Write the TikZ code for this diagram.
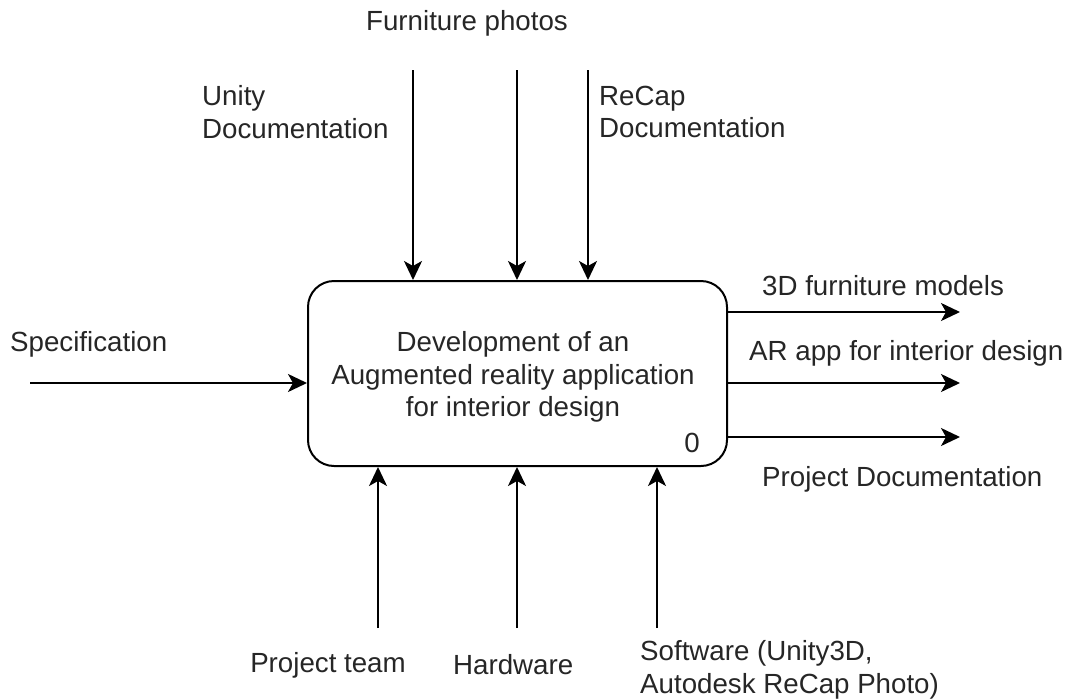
\documentclass[tikz,border=0pt]{standalone}
\usepackage{fontspec}
\setmainfont{Liberation Sans}
\usetikzlibrary{arrows.meta}
\begin{document}
\begin{tikzpicture}[x=1pt,y=-1pt,
  lbl/.style={inner sep=0pt, font=\fontsize{27.7}{32.5}\selectfont, text=black!85},
  arr/.style={line width=2pt, -{Stealth[length=19pt,width=18pt,inset=5pt]}},
  proc/.style={draw, line width=2pt, rounded corners=26pt, minimum width=419pt, minimum height=185pt, inner sep=0pt}]
\useasboundingbox (0,0) rectangle (1071,699);
\node[proc] (box) at (517.5,373.5) {};
\node[lbl, align=center] (boxt) at (513,377) {Development of an\\Augmented reality application\\for interior design};
\node[lbl] (num) at (692,443) {0};
% top
\node[lbl] (furn) at (467,23) {Furniture photos};
\node[lbl, anchor=west, align=left] (unity) at (202,112) {Unity\\Documentation};
\node[lbl, anchor=west, align=left] (recap) at (599,112) {ReCap\\Documentation};
\coordinate (t1) at (413,70);
\coordinate (t2) at (517,70);
\coordinate (t3) at (588,70);
\draw[arr] (t1) -- (t1 |- box.north);
\draw[arr] (t2) -- (t2 |- box.north);
\draw[arr] (t3) -- (t3 |- box.north);
% left
\node[lbl, anchor=west] (spec) at (10,344) {Specification};
\coordinate (l1) at (30,383);
\draw[arr] (l1) -- (l1 -| box.west);
% right
\node[lbl, anchor=west] (o1) at (762,286) {3D furniture models};
\node[lbl, anchor=west] (o2) at (749,353) {AR app for interior design};
\node[lbl, anchor=west] (o3) at (762,479) {Project Documentation};
\coordinate (r1) at (960,312);
\coordinate (r2) at (960,383);
\coordinate (r3) at (960,437);
\draw[arr] (r1 -| box.east) -- (r1);
\draw[arr] (r2 -| box.east) -- (r2);
\draw[arr] (r3 -| box.east) -- (r3);
% bottom
\node[lbl] (team) at (328,665) {Project team};
\node[lbl, anchor=west] (hw) at (453,665) {Hardware};
\node[lbl, anchor=west, align=left] (sw) at (640,670) {Software (Unity3D,\\Autodesk ReCap Photo)};
\coordinate (b1) at (378,628);
\coordinate (b2) at (517,628);
\coordinate (b3) at (657,628);
\draw[arr] (b1) -- (b1 |- box.south);
\draw[arr] (b2) -- (b2 |- box.south);
\draw[arr] (b3) -- (b3 |- box.south);
\end{tikzpicture}
\end{document}
